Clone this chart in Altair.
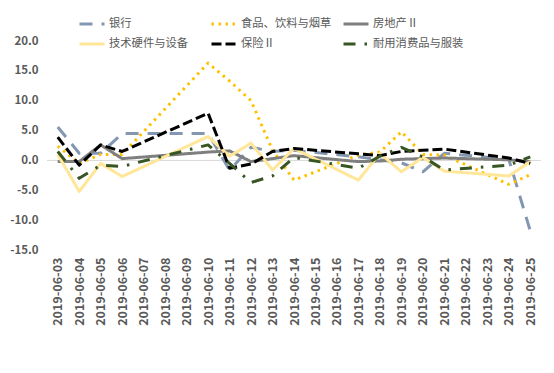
import altair as alt
import pandas as pd

# x-axis categories (every calendar day shown on the axis)
all_days = [
    "2019-06-03", "2019-06-04", "2019-06-05", "2019-06-06", "2019-06-07",
    "2019-06-08", "2019-06-09", "2019-06-10", "2019-06-11", "2019-06-12",
    "2019-06-13", "2019-06-14", "2019-06-15", "2019-06-16", "2019-06-17",
    "2019-06-18", "2019-06-19", "2019-06-20", "2019-06-21", "2019-06-22",
    "2019-06-23", "2019-06-24", "2019-06-25",
]

# trading days that carry data
trade_days = [
    "2019-06-03", "2019-06-04", "2019-06-05", "2019-06-06", "2019-06-10",
    "2019-06-11", "2019-06-12", "2019-06-13", "2019-06-14", "2019-06-17",
    "2019-06-18", "2019-06-19", "2019-06-20", "2019-06-21", "2019-06-24",
    "2019-06-25",
]

series_names = ["银行", "食品、饮料与烟草", "房地产Ⅱ", "技术硬件与设备", "保险Ⅱ", "耐用消费品与服装"]

bank = [5.6, 1.2, 1.2, 4.5, 4.5, -1.6, 2.2, 1.5, 1.7, 0.6, 0.1, -0.4, -1.9, 1.2, 0.2, -11.8]
food = [2.4, -0.5, 1.0, 1.0, 16.3, 13.3, 10.0, 1.7, -3.3, 0.9, 1.4, 4.8, 1.0, 0.9, -4.0, -2.4]
realestate = [-0.2, -0.2, 2.6, 0.3, 1.4, 1.6, -0.2, 0.3, 0.8, -0.2, -0.1, 0.2, 0.3, 0.4, 0.1, -0.2]
tech = [1.0, -5.2, -0.5, -2.7, 4.0, 0.7, 2.9, -1.6, 2.0, -3.3, 1.2, -1.9, 0.5, -1.8, -2.6, -0.2]
insurance = [3.9, -0.8, 2.6, 1.5, 7.9, -1.3, -0.6, 1.5, 2.0, 1.1, 0.8, 1.5, 1.7, 1.9, 0.4, -0.5]
durable = [1.5, -3.0, -0.8, -1.0, 2.6, -0.5, -3.7, -2.6, 0.5, -1.3, 0.7, 2.2, 0.6, -1.6, -0.8, 0.6]

series_values = [bank, food, realestate, tech, insurance, durable]

y_ticks = [-15, -10, -5, 0, 5, 10, 15, 20]
zero_level = [0]

colors = ["#8497B0", "#FFC000", "#7F7F7F", "#FFE699", "#000000", "#375623"]
dashes = [[13, 9], [2.5, 4.5], [1, 0], [1, 0], [10, 4], [12, 9, 2.5, 9]]
widths = [3, 3, 3, 4, 3.5, 3]

rows = []
for name, vals in zip(series_names, series_values):
    for d, v in zip(trade_days, vals):
        rows.append({"date": d, "value": v, "series": name})
df = pd.DataFrame(rows)

FONT = "Noto Sans CJK SC"
GREY = "#595959"

legend = alt.Legend(
    orient="none", legendX=31, legendY=-31, direction="horizontal",
    columns=3, gridAlign="all", columnPadding=5, rowPadding=-7,
    symbolType="stroke", symbolSize=625, symbolStrokeWidth=3,
    labelFontSize=11.3, labelColor=GREY, labelFont=FONT, labelOffset=3,
    labelLimit=300, padding=0, title=None,
)

y_scale = alt.Scale(domain=[-15, 20], nice=False, zero=False)
y_axis = alt.Axis(
    values=y_ticks, domain=False, ticks=False, grid=False,
    labelExpr="(datum.value < 0 ? '-' : '') + format(abs(datum.value), '.1f')",
    labelPadding=9, labelFontWeight="bold", labelColor=GREY,
    labelFontSize=11.5, labelFont=FONT, labelOverlap=False, title=None,
)

zero = alt.Chart(pd.DataFrame({"value": zero_level})).mark_rule(
    color="#D9D9D9", strokeWidth=1
).encode(y=alt.Y("value:Q", scale=y_scale, axis=y_axis))

lines = alt.Chart(df).mark_line(strokeJoin="round", strokeCap="butt").encode(
    x=alt.X(
        "date:O",
        scale=alt.Scale(domain=all_days, padding=0.5),
        axis=alt.Axis(
            labelAngle=-90, domain=False, ticks=False, grid=False,
            labelPadding=7, labelFontWeight="bold", labelColor=GREY,
            labelFontSize=12.5, labelFont=FONT, labelOverlap=False, title=None,
        ),
    ),
    y=alt.Y("value:Q", scale=y_scale, axis=y_axis),
    color=alt.Color("series:N", scale=alt.Scale(domain=series_names, range=colors), legend=legend),
    strokeDash=alt.StrokeDash("series:N", scale=alt.Scale(domain=series_names, range=dashes), legend=legend),
    strokeWidth=alt.StrokeWidth("series:N", scale=alt.Scale(domain=series_names, range=widths), legend=legend),
)

chart = alt.layer(zero, lines).properties(
    width=494, height=209,
    padding={"left": 39, "top": 33, "right": 5, "bottom": 100},
    autosize=alt.AutoSizeParams(type="none"),
).configure_view(stroke=None)

chart.save("out.html", embed_options={"renderer": "svg", "actions": False})
